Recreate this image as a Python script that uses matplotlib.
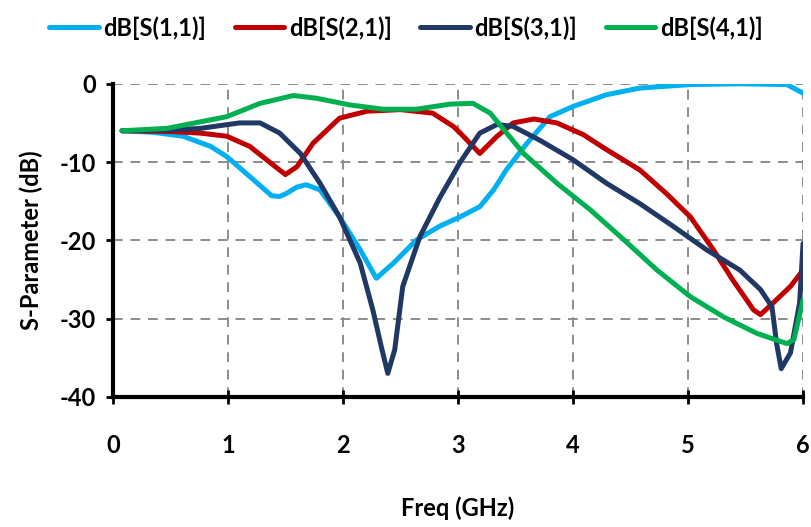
import matplotlib.pyplot as plt

# frequency (GHz) / dB readings per trace
f11 = [0.08, 0.35, 0.61, 0.85, 0.99, 1.19, 1.38, 1.45, 1.51, 1.60, 1.68, 1.80, 1.97, 2.15,
       2.29, 2.44, 2.64, 2.84, 3.02, 3.19, 3.31, 3.42, 3.60, 3.80, 4.00, 4.29, 4.58,
       5.02, 5.45, 5.86, 6.00]
s11 = [-6.0, -6.2, -6.7, -8.0, -9.3, -11.85, -14.3, -14.4, -14.0, -13.2, -12.9, -13.55,
       -17.0, -21.2, -24.85, -22.9, -19.95, -18.2, -17.0, -15.7, -13.55, -11.0, -7.6, -4.2,
       -2.9, -1.4, -0.55, -0.1, 0.0, -0.1, -1.2]

f21 = [0.08, 0.5, 0.76, 0.99, 1.19, 1.37, 1.50, 1.60, 1.74, 1.97, 2.21, 2.50, 2.78, 2.96,
       3.02, 3.19, 3.34, 3.48, 3.66, 3.86, 4.09, 4.29, 4.58, 4.81, 5.02, 5.22, 5.39, 5.57,
       5.63, 5.74, 5.89, 6.00]
s21 = [-6.0, -6.1, -6.3, -6.7, -8.0, -10.1, -11.6, -10.6, -7.6, -4.4, -3.5, -3.3, -3.75,
       -5.45, -6.3, -8.9, -6.7, -5.0, -4.5, -5.0, -6.5, -8.4, -11.0, -14.0, -17.0, -21.2,
       -25.1, -28.9, -29.5, -28.0, -25.9, -23.8]

f31 = [0.08, 0.5, 0.76, 1.10, 1.28, 1.45, 1.63, 1.80, 1.97, 2.15, 2.26, 2.34, 2.39, 2.45,
       2.52, 2.67, 2.84, 3.02, 3.19, 3.34, 3.48, 3.71, 4.00, 4.29, 4.58, 4.87, 5.16, 5.45,
       5.63, 5.73, 5.77, 5.81, 5.89, 5.97, 6.00]
s31 = [-6.0, -5.9, -5.7, -5.0, -5.0, -6.3, -8.9, -12.7, -17.0, -22.9, -28.9, -34.0, -37.0,
       -34.0, -25.9, -19.5, -14.6, -10.0, -6.3, -5.2, -5.45, -7.2, -9.7, -12.7, -15.3,
       -18.2, -21.2, -23.8, -26.3, -28.5, -33.2, -36.4, -34.4, -28.0, -20.4]

f41 = [0.08, 0.47, 0.99, 1.28, 1.57, 1.77, 2.06, 2.35, 2.64, 2.93, 3.13, 3.28, 3.57, 3.86,
       4.15, 4.44, 4.73, 5.02, 5.31, 5.60, 5.86, 5.92, 6.00]
s41 = [-6.0, -5.7, -4.2, -2.5, -1.5, -1.85, -2.7, -3.25, -3.25, -2.6, -2.5, -3.75, -8.9,
       -12.7, -16.1, -19.9, -23.8, -27.2, -29.8, -31.9, -33.2, -32.7, -27.6]

labels = ['dB[S(1,1)]', 'dB[S(2,1)]', 'dB[S(3,1)]', 'dB[S(4,1)]']
colors = ['#00B0F0', '#C00000', '#203864', '#00B050']

plt.rcParams['font.family'] = ['Lato', 'DejaVu Sans']
plt.rcParams['font.weight'] = 'bold'
plt.rcParams['axes.unicode_minus'] = False

fig = plt.figure(figsize=(8.12, 5.27), dpi=100)
ax = fig.add_axes([0.139, 0.247, 0.850, 0.594])

for fx, sy, lab, c in zip([f11, f21, f31, f41], [s11, s21, s31, s41], labels, colors):
    ax.plot(fx, sy, color=c, lw=3.6, label=lab, solid_joinstyle='round', solid_capstyle='round')

ax.set_xlim(0, 6)
ax.set_ylim(-40, 0)
ax.set_xticks(range(0, 7))
ax.set_yticks(range(-40, 1, 10))
ax.grid(True, color='#8c8c8c', ls=(0, (5, 4)), lw=1.4)
ax.set_axisbelow(True)

for s in ['top', 'right']:
    ax.spines[s].set_visible(False)
for s in ['left', 'bottom']:
    ax.spines[s].set_linewidth(3)

ax.tick_params(axis='x', direction='inout', length=10, width=2, labelsize=17, pad=22)
ax.tick_params(axis='y', direction='out', length=5, width=2, labelsize=17, pad=7)
for t in ax.get_xticklabels() + ax.get_yticklabels():
    t.set_fontweight('bold')

ax.set_xlabel('Freq (GHz)', fontsize=17, fontweight='bold', labelpad=28)
ax.set_ylabel('S-Parameter (dB)', fontsize=17, fontweight='bold', labelpad=12)

leg = fig.legend(loc='upper center', bbox_to_anchor=(0.5, 1.01), ncol=4, frameon=False,
                 fontsize=17, handlelength=2.1, columnspacing=1.2, handletextpad=0.2)
for t in leg.get_texts():
    t.set_fontweight('bold')

fig.savefig('out.png', dpi=100)
